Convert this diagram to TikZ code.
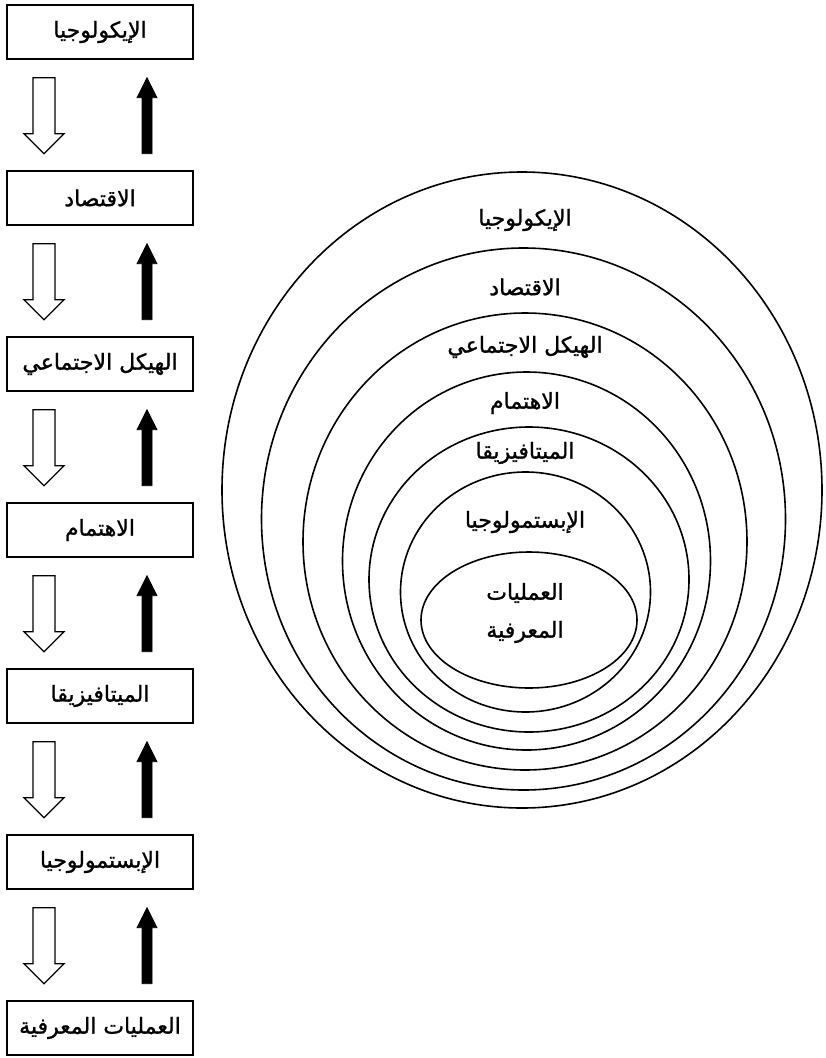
\documentclass[tikz,border=0pt]{standalone}
\usepackage{fontspec}
\newfontfamily\arabicfont[Script=Arabic,FakeBold=1.2]{DejaVu Sans}
\TeXXeTstate=1
\usetikzlibrary{calc}
\newcommand{\artxt}[1]{{\arabicfont\beginR #1\endR}}
\begin{document}
\begin{tikzpicture}[x=1pt,y=-1pt,
  stepbox/.style={draw, line width=1.4pt, minimum width=186pt, minimum height=54pt, inner sep=0pt, font=\fontsize{22}{24}\selectfont},
  ring/.style={draw, line width=1.6pt},
  ringlabel/.style={inner sep=0pt, font=\fontsize{22}{24}\selectfont},
  hollowarrow/.style={draw, line width=1.3pt, fill=white, line join=miter},
  solidarrow/.style={draw, line width=0.8pt, fill=black, line join=miter}]
\useasboundingbox (0,0) rectangle (825,1058);
\fill[white] (0,0) rectangle (825,1058);

% left column
\node[stepbox] (b1) at (100,32)   {\artxt{الإيكولوجيا}};
\node[stepbox] (b2) at (100,198)  {\artxt{الاقتصاد}};
\node[stepbox] (b3) at (100,364)  {\artxt{الهيكل الاجتماعي}};
\node[stepbox] (b4) at (100,530)  {\artxt{الاهتمام}};
\node[stepbox] (b5) at (100,696)  {\artxt{الميتافيزيقا}};
\node[stepbox] (b6) at (100,862)  {\artxt{الإبستمولوجيا}};
\node[stepbox] (b7) at (100,1028) {\artxt{العمليات المعرفية}};

\foreach \i in {1,...,6}{
  \draw[hollowarrow] ($(b\i.south)+(-67,18)$) -- ++(22,0) -- ++(0,56) -- ++(9,0)
     -- ++(-20,20) -- ++(-20,-20) -- ++(9,0) -- cycle;
  \draw[solidarrow] ($(b\i.south)+(47,18)$) -- ++(10,20) -- ++(-5,0) -- ++(0,56)
     -- ++(-10,0) -- ++(0,-56) -- ++(-5,0) -- cycle;
}

% nested ellipses
\draw[ring] (522,490)   ellipse [x radius=300, y radius=318];
\draw[ring] (523.5,519) ellipse [x radius=262, y radius=271];
\draw[ring] (525,541.5) ellipse [x radius=222, y radius=228.5];
\draw[ring] (526.5,561) ellipse [x radius=184, y radius=189];
\draw[ring] (529,579.5) ellipse [x radius=160, y radius=152.5];
\draw[ring] (525.5,592) ellipse [x radius=125, y radius=120];
\draw[ring] (529,620)   ellipse [x radius=108, y radius=68];

\node[ringlabel] (l1) at (525,220) {\artxt{الإيكولوجيا}};
\node[ringlabel] (l2) at (525,287) {\artxt{الاقتصاد}};
\node[ringlabel] (l3) at (525,347) {\artxt{الهيكل الاجتماعي}};
\node[ringlabel] (l4) at (525,403) {\artxt{الاهتمام}};
\node[ringlabel] (l5) at (525,453) {\artxt{الميتافيزيقا}};
\node[ringlabel] (l6) at (525,522) {\artxt{الإبستمولوجيا}};
\node[ringlabel] (l7) at (525,593) {\artxt{العمليات}};
\node[ringlabel] (l8) at (525,632) {\artxt{المعرفية}};
\end{tikzpicture}
\end{document}
